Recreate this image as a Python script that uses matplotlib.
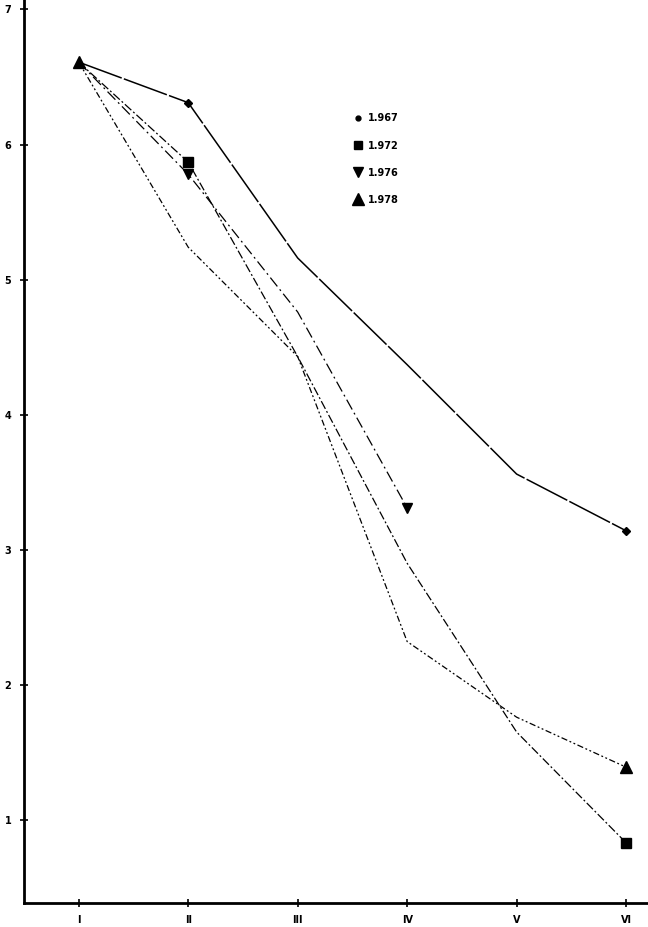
import matplotlib
matplotlib.use("Agg")
import matplotlib.pyplot as plt

# periods on the x axis
periods = ["I", "II", "III", "IV", "V", "VI"]
x_pos = [1, 2, 3, 4, 5, 6]

# values
y_1967 = [6.61, 6.31, 5.16, 4.37, 3.56, 3.14]
y_1972 = [6.61, 5.87, 4.43, 2.90, 1.65, 0.83]
y_1976 = [6.61, 5.78, 4.76, 3.31]
y_1978 = [6.61, 5.24, 4.43, 2.32, 1.76, 1.39]

y_ticks = [1, 2, 3, 4, 5, 6, 7]


def main():
    fig = plt.figure(figsize=(6.48, 9.27), dpi=100)
    ax = fig.add_axes([0.037, 0.026, 0.963, 0.974])

    # each year: values, dash pattern, marker, marker size, where markers go
    ax.plot(x_pos, y_1967, color='k', lw=1.1, ls=(0, (30, 1.5)),
            marker='D', ms=4, markevery=[1, 5])
    ax.plot(x_pos, y_1972, color='k', lw=0.9, ls=(0, (7, 2, 1.5, 2)),
            marker='s', ms=6.5, markevery=[1, 5])
    ax.plot(x_pos[:len(y_1976)], y_1976, color='k', lw=0.9, ls=(0, (9, 3, 1.5, 3)),
            marker='v', ms=7, markevery=[1, 3])
    ax.plot(x_pos, y_1978, color='k', lw=0.9, ls=(0, (5, 2, 1.5, 2, 1.5, 2)),
            marker='^', ms=8.5, markevery=[0, 5])

    # legend with markers only
    handles = [
        ax.plot([], [], ls='none', marker='o', ms=3.5, color='k')[0],
        ax.plot([], [], ls='none', marker='s', ms=6, color='k')[0],
        ax.plot([], [], ls='none', marker='v', ms=7, color='k')[0],
        ax.plot([], [], ls='none', marker='^', ms=8, color='k')[0],
    ]
    labels = ["1.967", "1.972", "1.976", "1.978"]
    ax.legend(handles, labels, loc='upper left', bbox_to_anchor=(0.515, 0.884),
              frameon=False, handlelength=0.8, handletextpad=0.6,
              labelspacing=1.75, prop={'size': 7, 'weight': 'bold'})

    ax.set_xlim(0.5, 6.2)
    ax.set_ylim(0.385, 7.07)
    ax.set_xticks(x_pos)
    ax.set_xticklabels(periods)
    ax.set_yticks(y_ticks)
    ax.set_yticklabels([str(v) for v in y_ticks])

    for side in ['top', 'right']:
        ax.spines[side].set_visible(False)
    for side in ['left', 'bottom']:
        ax.spines[side].set_linewidth(2.0)

    ax.tick_params(axis='both', direction='inout', length=6, width=1.2,
                   labelsize=7, pad=6)
    for lab in ax.get_xticklabels() + ax.get_yticklabels():
        lab.set_fontweight('bold')

    fig.savefig("out.png", dpi=100)


if __name__ == "__main__":
    main()
